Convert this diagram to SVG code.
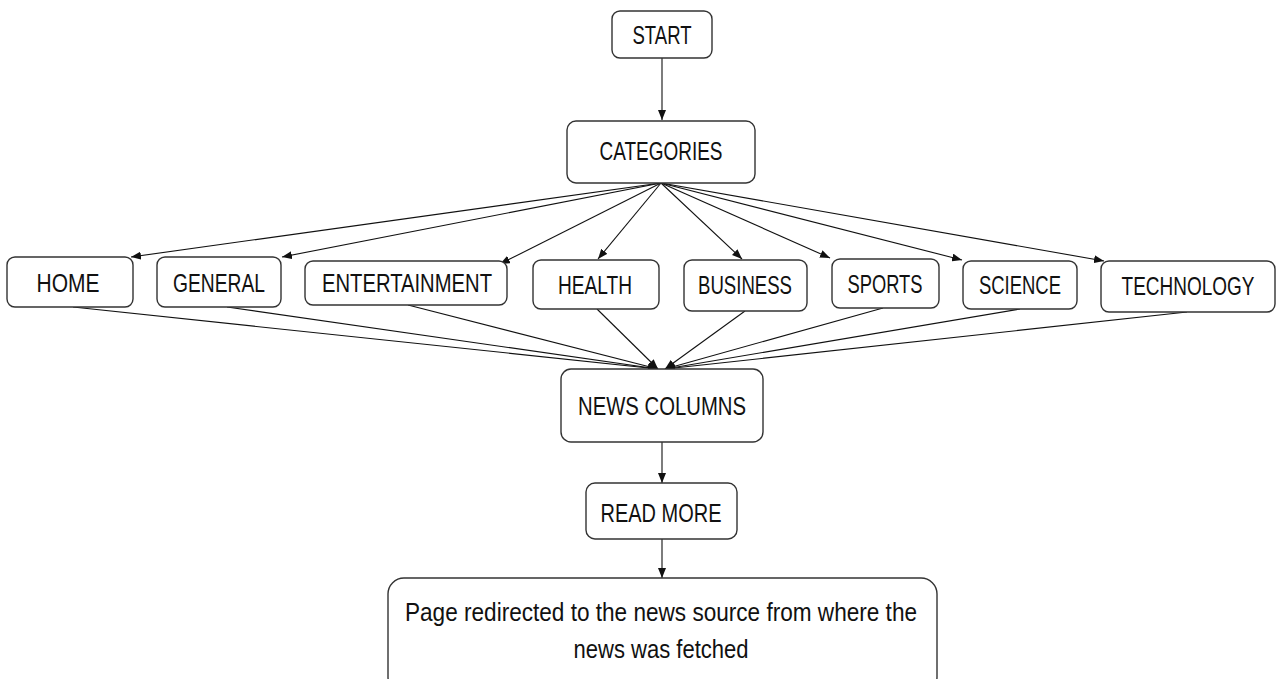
<svg xmlns="http://www.w3.org/2000/svg" width="1276" height="679" viewBox="0 0 1276 679">
<style>
.box{fill:#fff;stroke:#333;stroke-width:1.4}
.t{font-family:"Liberation Sans",Arial,sans-serif;font-size:25px;fill:#111;text-anchor:middle}
.b{font-family:"Liberation Sans",Arial,sans-serif;font-size:25px;fill:#111;text-anchor:middle}
.c{fill:none;stroke:#111;stroke-width:1.1;marker-end:url(#ah)}
</style>
<defs>
<marker id="ah" markerUnits="userSpaceOnUse" markerWidth="10" markerHeight="8" refX="10" refY="4" orient="auto">
<path d="M0,0 L10,4 L0,8 z" fill="#111"/>
</marker>
</defs>
<rect width="1276" height="679" fill="#fff"/>
<g id="connectors">
<line class="c" x1="662" y1="58" x2="662" y2="120"/>
<line class="c" x1="661" y1="183" x2="131" y2="257"/>
<line class="c" x1="661" y1="183" x2="282" y2="257"/>
<line class="c" x1="661" y1="183" x2="500" y2="264"/>
<line class="c" x1="661" y1="183" x2="598" y2="259"/>
<line class="c" x1="661" y1="183" x2="742" y2="259"/>
<line class="c" x1="661" y1="183" x2="830" y2="258"/>
<line class="c" x1="661" y1="183" x2="962" y2="260"/>
<line class="c" x1="661" y1="183" x2="1104" y2="261"/>
<line class="c" x1="73" y1="307" x2="658" y2="369"/>
<line class="c" x1="227" y1="307" x2="658" y2="369"/>
<line class="c" x1="408" y1="305" x2="658" y2="369"/>
<line class="c" x1="597" y1="309" x2="658" y2="369"/>
<line class="c" x1="745" y1="311" x2="665" y2="369"/>
<line class="c" x1="883" y1="308" x2="665" y2="369"/>
<line class="c" x1="1020" y1="309" x2="665" y2="369"/>
<line class="c" x1="1187" y1="312" x2="665" y2="369"/>
<line class="c" x1="662" y1="442" x2="662" y2="483"/>
<line class="c" x1="662" y1="539" x2="662" y2="578"/>
</g>
<g id="start"><rect class="box" x="612" y="11" width="100" height="47" rx="8"/><text class="t" x="662" y="44" textLength="59" lengthAdjust="spacingAndGlyphs">START</text></g>
<g id="categories"><rect class="box" x="567" y="121" width="188" height="62" rx="9"/><text class="t" x="661" y="160" textLength="123" lengthAdjust="spacingAndGlyphs">CATEGORIES</text></g>
<g id="home"><rect class="box" x="7" y="257" width="126" height="50" rx="8"/><text class="t" x="68" y="292" textLength="63" lengthAdjust="spacingAndGlyphs">HOME</text></g>
<g id="general"><rect class="box" x="157" y="257" width="124" height="50" rx="8"/><text class="t" x="219" y="292" textLength="92" lengthAdjust="spacingAndGlyphs">GENERAL</text></g>
<g id="entertainment"><rect class="box" x="305" y="261" width="202" height="44" rx="8"/><text class="t" x="407" y="292" textLength="170" lengthAdjust="spacingAndGlyphs">ENTERTAINMENT</text></g>
<g id="health"><rect class="box" x="533" y="260" width="126" height="49" rx="8"/><text class="t" x="595" y="294" textLength="74" lengthAdjust="spacingAndGlyphs">HEALTH</text></g>
<g id="business"><rect class="box" x="684" y="260" width="123" height="51" rx="8"/><text class="t" x="745" y="294" textLength="94" lengthAdjust="spacingAndGlyphs">BUSINESS</text></g>
<g id="sports"><rect class="box" x="832" y="259" width="107" height="49" rx="8"/><text class="t" x="885" y="293" textLength="75" lengthAdjust="spacingAndGlyphs">SPORTS</text></g>
<g id="science"><rect class="box" x="963" y="261" width="114" height="48" rx="8"/><text class="t" x="1020" y="294" textLength="82" lengthAdjust="spacingAndGlyphs">SCIENCE</text></g>
<g id="technology"><rect class="box" x="1101" y="261" width="174" height="51" rx="8"/><text class="t" transform="translate(1188 295) scale(0.76 1)" x="0" y="0">TECHNOLOGY</text></g>
<g id="news-columns"><rect class="box" x="561" y="369" width="202" height="73" rx="10"/><text class="t" x="662" y="415" textLength="168" lengthAdjust="spacingAndGlyphs">NEWS COLUMNS</text></g>
<g id="read-more"><rect class="box" x="586" y="483" width="151" height="56" rx="9"/><text class="t" x="661" y="522" textLength="121" lengthAdjust="spacingAndGlyphs">READ MORE</text></g>
<g id="redirect"><rect class="box" x="388" y="578" width="549" height="115" rx="16"/>
<text class="b" x="661" y="621" textLength="512" lengthAdjust="spacingAndGlyphs">Page redirected to the news source from where the</text>
<text class="b" x="661" y="658" textLength="175" lengthAdjust="spacingAndGlyphs">news was fetched</text></g>
</svg>
